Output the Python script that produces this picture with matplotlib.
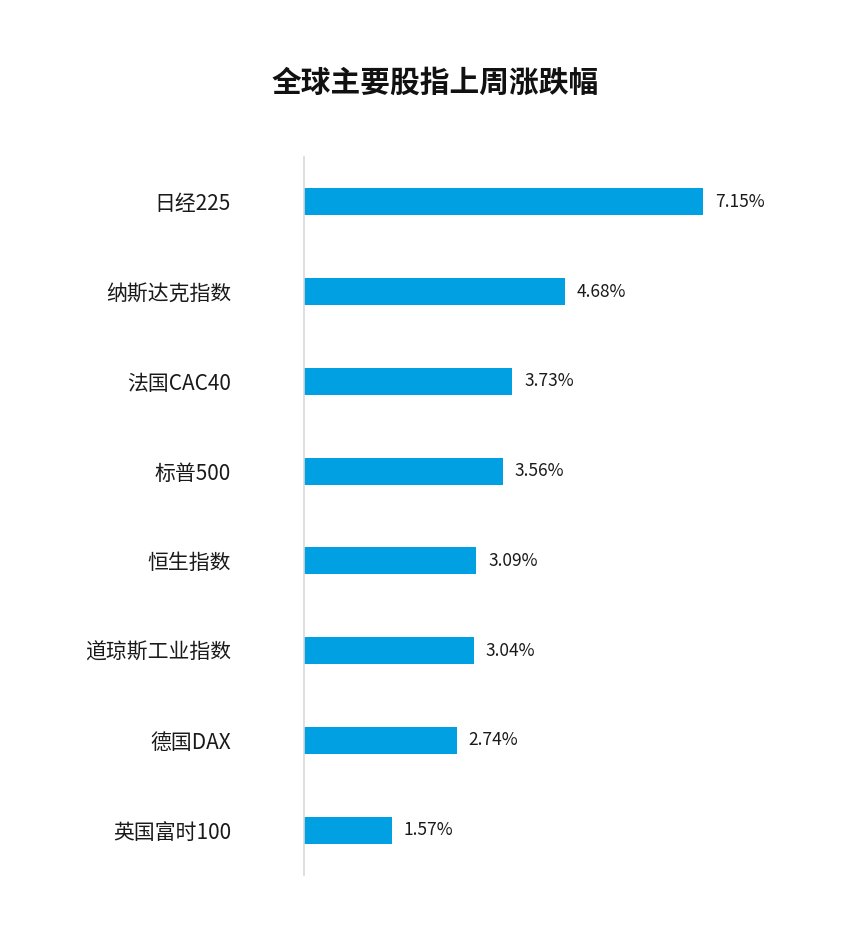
import matplotlib
matplotlib.use("Agg")
import matplotlib.pyplot as plt

plt.rcParams['font.family'] = ['Noto Sans CJK SC', 'DejaVu Sans']

categories = ["日经225", "纳斯达克指数", "法国CAC40", "标普500", "恒生指数", "道琼斯工业指数", "德国DAX", "英国富时100"]
values = [7.15, 4.68, 3.73, 3.56, 3.09, 3.04, 2.74, 1.57]
title = "全球主要股指上周涨跌幅"

fig = plt.figure(figsize=(8.65, 9.41), dpi=100)
left = 304 / 865
right = 800 / 865
bottom = 1 - 875 / 941
top = 1 - 157 / 941
ax = fig.add_axes([left, bottom, right - left, top - bottom])

pos = list(range(len(categories)))
ax.barh(pos, values, height=0.3, color="#00A0E3")
xmax = (800 - 304) / ((703 - 304) / 7.15)
ax.set_xlim(0, xmax)
ax.set_ylim(len(categories) - 0.5, -0.5)

for p, v in zip(pos, values):
    ax.annotate(f"{v:.2f}%", xy=(v, p), xytext=(8.5, 0), textcoords="offset points",
                ha="left", va="center", fontsize=12.5, color="#1a1a1a")

ax.set_yticks(pos)
ax.set_yticklabels(categories, fontsize=15, color="#1a1a1a")
ax.tick_params(axis="y", length=0, pad=73 * 72 / 100)
ax.set_xticks([])
for s in ["top", "right", "bottom"]:
    ax.spines[s].set_visible(False)
ax.spines["left"].set_color("#d9d9d9")
ax.spines["left"].set_linewidth(1.2)

fig.text(435.5 / 865, 1 - 83 / 941, title, ha="center", va="center", fontsize=21.4, fontweight="bold", color="#111111")

fig.savefig("out.png", dpi=100, facecolor="white")
